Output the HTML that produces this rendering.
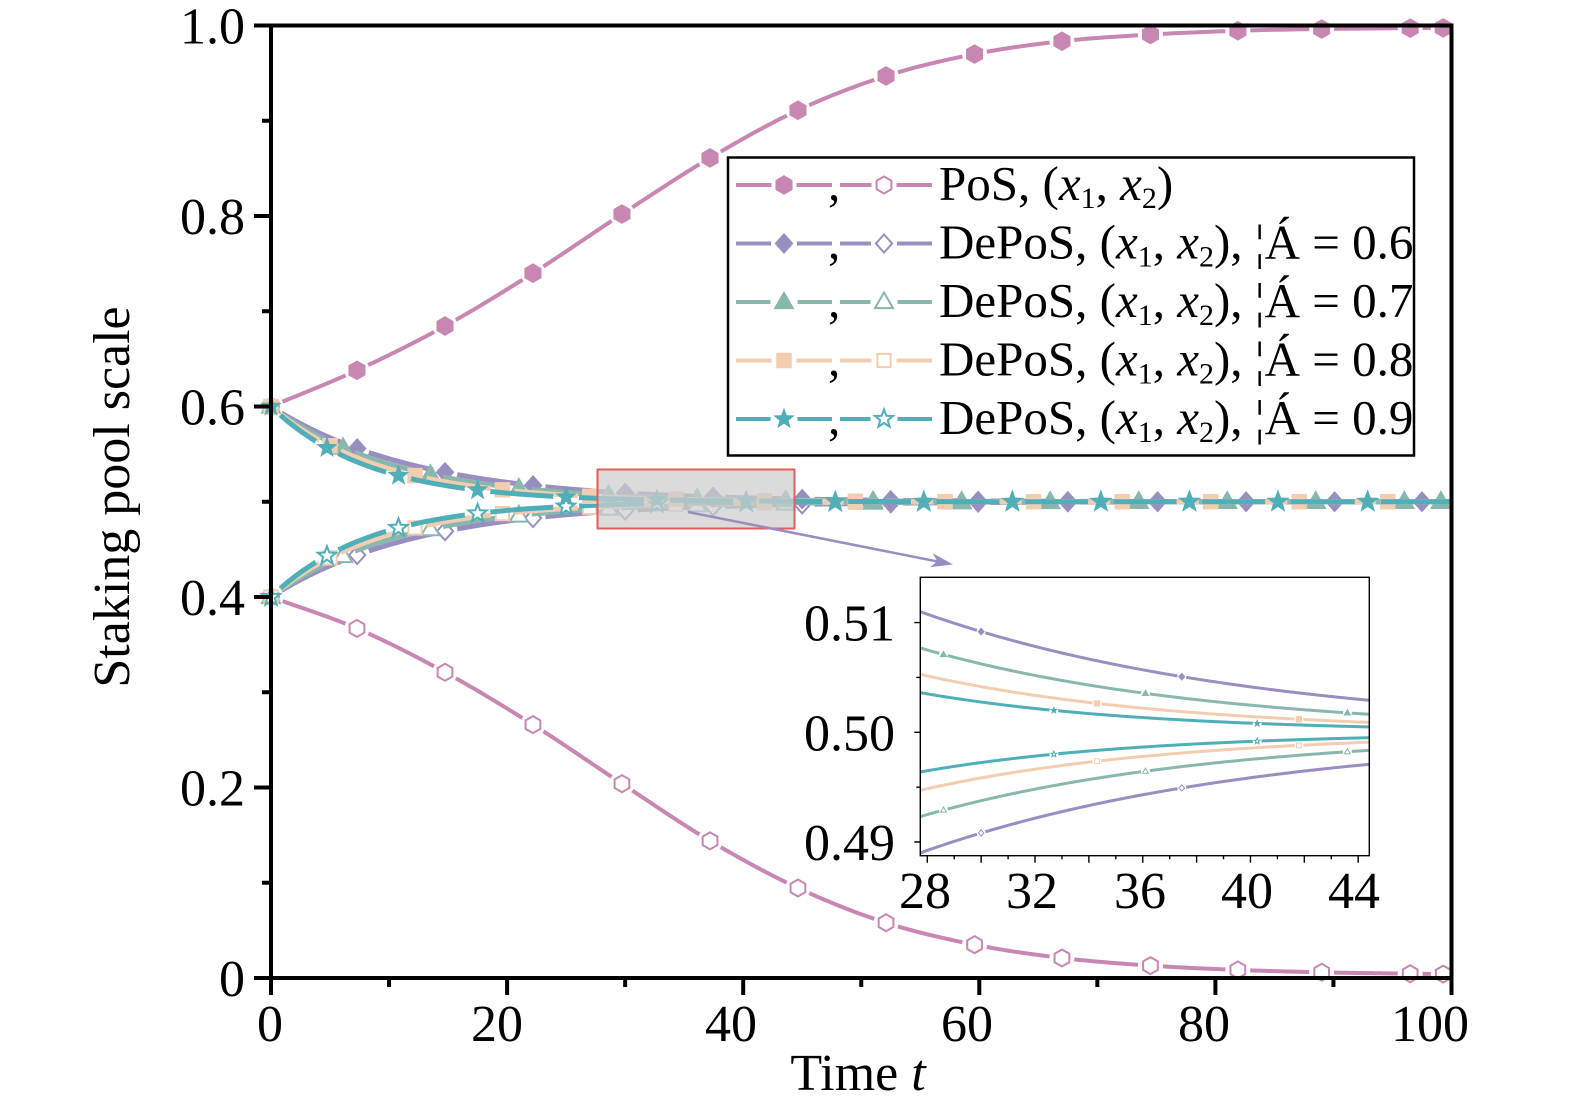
<!DOCTYPE html>
<html><head><meta charset="utf-8">
<style>
html,body{margin:0;padding:0;background:#fff;}
svg{display:block;}
text{font-family:"Liberation Serif","Times New Roman",serif;fill:#000;}
</style></head>
<body>
<svg id="s" width="1575" height="1112" viewBox="0 0 1575 1112" xmlns="http://www.w3.org/2000/svg">
<defs id="defs">
<clipPath id="insetClip"><rect x="920.3" y="577.3" width="449" height="278.4"/></clipPath>
</defs>
<rect x="0" y="0" width="1575" height="1112" fill="#fff"/>
<g id="data"></g>

<!-- main axes -->
<path d="M271,25.5 H1451.5 V978 H271 Z" fill="none" stroke="#000" stroke-width="4"/>
<path d="M254,978 H271 M254,787.5 H271 M254,597 H271 M254,406.5 H271 M254,216 H271 M254,25.5 H271
M262,882.75 H271 M262,692.25 H271 M262,501.75 H271 M262,311.25 H271 M262,120.75 H271
M271,978 V995 M507.1,978 V995 M743.2,978 V995 M979.3,978 V995 M1215.4,978 V995 M1451.5,978 V995
M389.05,978 V987 M625.15,978 V987 M861.25,978 V987 M1097.35,978 V987 M1333.45,978 V987" stroke="#000" stroke-width="4" fill="none"/>

<g font-size="52" text-anchor="end">
<text x="245" y="996">0</text>
<text x="245" y="805.5">0.2</text>
<text x="245" y="615">0.4</text>
<text x="245" y="424.5">0.6</text>
<text x="245" y="234">0.8</text>
<text x="245" y="43.5">1.0</text>
</g>
<g font-size="52" text-anchor="middle">
<text x="270" y="1041">0</text>
<text x="497" y="1041">20</text>
<text x="731" y="1041">40</text>
<text x="967" y="1041">60</text>
<text x="1204" y="1041">80</text>
<text x="1430" y="1041">100</text>
</g>
<text x="858" y="1090" font-size="52" text-anchor="middle">Time <tspan font-style="italic">t</tspan></text>
<text transform="translate(129,497) rotate(-90)" font-size="52" text-anchor="middle">Staking pool scale</text>

<!-- zoom box & arrow -->
<rect x="597.5" y="469.5" width="197" height="59" fill="rgba(205,205,205,0.72)" stroke="#E45C5C" stroke-width="2"/>
<line x1="688" y1="512" x2="940" y2="562" stroke="#9A8DBF" stroke-width="2.5"/>
<polygon points="953,564.5 930,567.1 937.3,561.4 932.8,553.3" fill="#9A8DBF"/>

<!-- legend -->
<rect x="728" y="157.5" width="686" height="298" fill="#fff" stroke="#000" stroke-width="2.5"/>
<g id="legend"></g>
<g font-size="49">
<text x="828" y="200">,</text>
<text x="828" y="258.5">,</text>
<text x="828" y="317">,</text>
<text x="828" y="375.5">,</text>
<text x="828" y="434">,</text>
<text x="939" y="200">PoS, (<tspan font-style="italic">x</tspan><tspan font-size="30" dy="8">1</tspan><tspan dy="-8">, </tspan><tspan font-style="italic">x</tspan><tspan font-size="30" dy="8">2</tspan><tspan dy="-8">)</tspan></text>
<text x="939" y="258.5">DePoS, (<tspan font-style="italic">x</tspan><tspan font-size="30" dy="8">1</tspan><tspan dy="-8">, </tspan><tspan font-style="italic">x</tspan><tspan font-size="30" dy="8">2</tspan><tspan dy="-8">), ¦Á = 0.6</tspan></text>
<text x="939" y="317">DePoS, (<tspan font-style="italic">x</tspan><tspan font-size="30" dy="8">1</tspan><tspan dy="-8">, </tspan><tspan font-style="italic">x</tspan><tspan font-size="30" dy="8">2</tspan><tspan dy="-8">), ¦Á = 0.7</tspan></text>
<text x="939" y="375.5">DePoS, (<tspan font-style="italic">x</tspan><tspan font-size="30" dy="8">1</tspan><tspan dy="-8">, </tspan><tspan font-style="italic">x</tspan><tspan font-size="30" dy="8">2</tspan><tspan dy="-8">), ¦Á = 0.8</tspan></text>
<text x="939" y="434">DePoS, (<tspan font-style="italic">x</tspan><tspan font-size="30" dy="8">1</tspan><tspan dy="-8">, </tspan><tspan font-style="italic">x</tspan><tspan font-size="30" dy="8">2</tspan><tspan dy="-8">), ¦Á = 0.9</tspan></text>
</g>

<!-- inset -->
<rect x="920.3" y="577.3" width="449" height="278.4" fill="#fff"/>
<g id="inset" clip-path="url(#insetClip)"></g>
<rect x="920.3" y="577.3" width="449" height="278.4" fill="none" stroke="#000" stroke-width="1.4"/>
<g id="insetTicks" stroke="#000" stroke-width="1.4"></g>
<g font-size="52" text-anchor="end">
<text x="895" y="640.6">0.51</text>
<text x="895" y="750.3">0.50</text>
<text x="895" y="860">0.49</text>
</g>
<g font-size="52" text-anchor="middle">
<text x="925" y="908">28</text>
<text x="1032" y="908">32</text>
<text x="1140" y="908">36</text>
<text x="1247" y="908">40</text>
<text x="1354" y="908">44</text>
</g>
</svg>
<script>
(function(){
const NS="http://www.w3.org/2000/svg";
function el(tag,attrs,parent){const e=document.createElementNS(NS,tag);for(const k in attrs)e.setAttribute(k,attrs[k]);if(parent)parent.appendChild(e);return e;}
const X=t=>271+11.805*t, Y=v=>978-952.5*v;
const XI=t=>927.3+26.93*(t-28), YI=v=>732.3-10970*(v-0.5);
const defs=document.getElementById('defs');
const gData=document.getElementById('data');
const gInset=document.getElementById('inset');
const gLeg=document.getElementById('legend');
const gIT=document.getElementById('insetTicks');

function mono(pts){
 const n=pts.length, xs=pts.map(p=>p[0]), ys=pts.map(p=>p[1]);
 const d=[],m=[];
 for(let i=0;i<n-1;i++) d.push((ys[i+1]-ys[i])/(xs[i+1]-xs[i]));
 m[0]=d[0]; m[n-1]=d[n-2];
 for(let i=1;i<n-1;i++){ if(d[i-1]*d[i]<=0) m[i]=0; else m[i]=(d[i-1]+d[i])/2; }
 for(let i=0;i<n-1;i++){ if(d[i]===0){m[i]=0;m[i+1]=0;continue;} const a=m[i]/d[i], b=m[i+1]/d[i]; const s=a*a+b*b; if(s>9){const tau=3/Math.sqrt(s); m[i]=tau*a*d[i]; m[i+1]=tau*b*d[i];} }
 return function(t){ let i=0; while(i<n-2 && t>xs[i+1]) i++; const h=xs[i+1]-xs[i]; const u=(t-xs[i])/h; const u2=u*u,u3=u2*u; return (2*u3-3*u2+1)*ys[i]+(u3-2*u2+u)*h*m[i]+(-2*u3+3*u2)*ys[i+1]+(u3-u2)*h*m[i+1]; };
}

function shape(type,cx,cy,r,filled,color,sw,parent){
 const fill=filled?color:'#fff';
 const at={fill:fill,stroke:color,'stroke-width':filled?0.6:sw,'stroke-linejoin':'miter'};
 let pts=[];
 if(!filled) r=r-sw*0.5;
 if(type==='hex'){ for(let i=0;i<6;i++){const a=(-90+60*i)*Math.PI/180; pts.push([cx+r*Math.cos(a),cy+r*Math.sin(a)]);} }
 else if(type==='dia'){ pts=[[cx,cy-r],[cx+r*0.9,cy],[cx,cy+r],[cx-r*0.9,cy]]; }
 else if(type==='tri'){ pts=[[cx,cy-r],[cx+r*0.95,cy+r*0.65],[cx-r*0.95,cy+r*0.65]]; }
 else if(type==='sq'){ const h=r*0.78; pts=[[cx-h,cy-h],[cx+h,cy-h],[cx+h,cy+h],[cx-h,cy+h]]; }
 else if(type==='star'){ for(let i=0;i<10;i++){const a=(-90+36*i)*Math.PI/180; const rr=(i%2===0)?r:r*0.42; pts.push([cx+rr*Math.cos(a),cy+rr*Math.sin(a)]);} }
 at.points=pts.map(p=>p[0].toFixed(2)+','+p[1].toFixed(2)).join(' ');
 return el('polygon',at,parent);
}

let maskId=0;
function lineWithGaps(parent,dstr,color,w,gapPts,gapR){
 const id='mk'+(maskId++);
 const mk=el('mask',{id:id,maskUnits:'userSpaceOnUse',x:0,y:0,width:1575,height:1112},defs);
 el('rect',{x:0,y:0,width:1575,height:1112,fill:'#fff'},mk);
 gapPts.forEach(p=>el('circle',{cx:p[0],cy:p[1],r:gapR,fill:'#000'},mk));
 el('path',{d:dstr,fill:'none',stroke:color,'stroke-width':w,'stroke-linejoin':'round','stroke-linecap':'butt',mask:'url(#'+id+')'},parent);
}
function pathFrom(f,t0,t1,step,MX,MY){
 let s='';
 for(let t=t0;t<=t1+1e-9;t+=step){ s+=(s?'L':'M')+MX(t).toFixed(2)+','+MY(f(t)).toFixed(2); }
 return s;
}

const PINK='#C886B2', PURP='#9A8DBF', GREEN='#88B7AE', PEACH='#F3CDB0', TEAL='#4FAFB8';

const posU=mono([[0,0.6],[7.28,0.638],[14.74,0.6845],[22.19,0.740],[29.73,0.802],[37.19,0.861],[44.64,0.911],[52.1,0.947],[59.6,0.970],[67.0,0.9835],[74.5,0.9905],[81.9,0.9945],[89.0,0.9963],[96.5,0.9972],[100,0.9975]]);
const posL=mono([[0,0.4],[7.28,0.367],[14.74,0.321],[22.19,0.266],[29.73,0.204],[37.19,0.144],[44.64,0.0945],[52.1,0.058],[59.6,0.035],[67.0,0.021],[74.5,0.013],[81.9,0.0085],[89.0,0.006],[96.5,0.0045],[100,0.004]]);
const posT=[0,7.28,14.74,22.19,29.73,37.19,44.64,52.1,59.6,67.0,74.5,81.9,89.0,96.5,99.3];

const series=[
 {c:PURP,m:'dia',r:10,k:0.0796,mt:[0,7.3,14.74,22.2,30.0,37.45,45.0,52.5,59.9,67.5,75.1,82.6,90.1,97.5]},
 {c:GREEN,m:'tri',r:10.5,k:0.0925,mt:[0,6.1,13.5,21.0,28.6,36.1,43.6,51.0,58.5,66.0,73.5,81.0,88.5,96.0,99.1]},
 {c:PEACH,m:'sq',r:9.5,k:0.106,mt:[0,5.0,12.2,19.6,27.0,34.3,41.8,49.5,57.1,64.6,72.1,79.6,87.1,94.6]},
 {c:TEAL,m:'star',r:10.5,k:0.1197,mt:[0,4.74,10.8,17.5,25.0,32.7,40.25,47.8,55.3,62.8,70.3,77.8,85.3,92.9]}
];

// PoS
[[posU,true],[posL,false]].forEach(([f,filled])=>{
 const g=el('g',{},gData);
 const gp=posT.map(t=>[X(t),Y(f(t))]);
 lineWithGaps(g,pathFrom(f,0,100,0.25,X,Y),PINK,4,gp,12.5);
 gp.forEach(p=>shape('hex',p[0],p[1],9.5,filled,PINK,2,g));
});

// DePoS main: lower (hollow) series first, then upper (filled) on top
[-1,1].forEach(sg=>{
 series.forEach(s=>{
  const f=t=>0.5+sg*0.1*Math.exp(-s.k*t);
  const g=el('g',{},gData);
  const gp=s.mt.map(t=>[X(t),Y(f(t))]);
  lineWithGaps(g,pathFrom(f,0,100,0.25,X,Y),s.c,5,gp,s.r+2.5);
  gp.forEach(p=>shape(s.m,p[0],p[1],s.r,sg>0,s.c,2,g));
 });
});

// inset curves
[-1,1].forEach(sg=>{
 series.forEach(s=>{
  const f=t=>0.5+sg*0.1*Math.exp(-s.k*t);
  const g=el('g',{},gInset);
  const mt=s.mt.filter(t=>t>27.5&&t<44.6);
  const gp=mt.map(t=>[XI(t),YI(f(t))]);
  lineWithGaps(g,pathFrom(f,27.5,44.6,0.1,XI,YI),s.c,3,gp,4.5);
  gp.forEach(p=>shape(s.m,p[0],p[1],3.6,sg>0,s.c,1,g));
 });
});

// inset ticks
let td='';
for(let t=28;t<=44;t++){ const x=XI(t).toFixed(2); const L=(t%2===0)?7:3.5; td+='M'+x+',855.7 V'+(855.7+L).toFixed(2)+' '; }
[0.49,0.495,0.5,0.505,0.51].forEach((v,i)=>{ const y=YI(v).toFixed(2); const L=(i%2===0)?6:4; td+='M920.3,'+y+' H'+(920.3-L)+' '; });
el('path',{d:td,fill:'none'},gIT);

// legend samples
const legSeries=[{c:PINK,m:'hex',r:9.5,w:4}].concat(series.map(s=>({c:s.c,m:s.m,r:s.r,w:4})));
legSeries.forEach((s,i)=>{
 const cy=185+i*58.5;
 [[784,true,736,832],[884,false,840,932]].forEach(([mx,filled,x0,x1])=>{
  el('line',{x1:x0,y1:cy,x2:mx-s.r-3,y2:cy,stroke:s.c,'stroke-width':s.w},gLeg);
  el('line',{x1:mx+s.r+3,y1:cy,x2:x1,y2:cy,stroke:s.c,'stroke-width':s.w},gLeg);
  shape(s.m,mx,cy,s.r,filled,s.c,2,gLeg);
 });
});
})();
</script>
</body></html>
